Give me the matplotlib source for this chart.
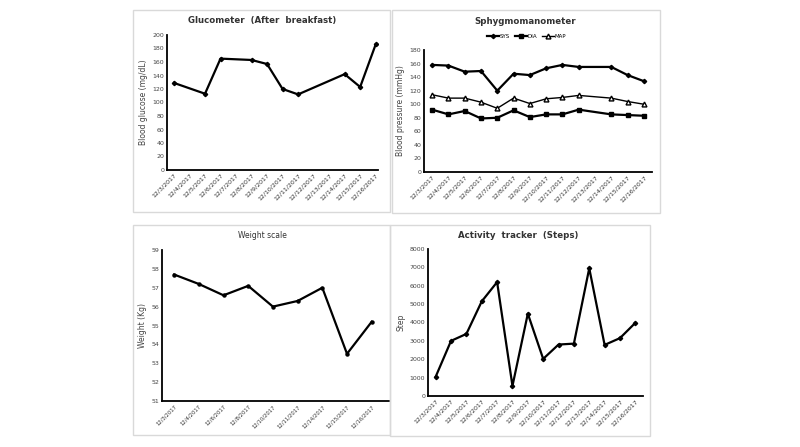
import matplotlib.pyplot as plt
import matplotlib.patches as mpatches
import numpy as np

nan = np.nan

# dates 12/3 .. 12/16
dates = ['12/%d/2017' % d for d in range(3, 17)]

# glucometer (after breakfast), gaps are missing readings
glucose = [129, nan, 113, 165, nan, 163, 157, 120, 112, nan, nan, 142, 123, 186]

# sphygmomanometer
sys_bp = [158, 157, 148, 149, 120, 145, 143, 153, 158, 155, nan, 155, 143, 134]
dia_bp = [92, 85, 90, 79, 80, 91, 81, 85, 85, 92, nan, 85, 84, 83]
map_bp = [114, 109, 109, 103, 94, 109, 101, 108, 110, 113, nan, 109, 104, 100]

# weight scale
weight_dates = ['12/3/2017', '12/4/2017', '12/6/2017', '12/8/2017', '12/10/2017',
                '12/11/2017', '12/14/2017', '12/15/2017', '12/16/2017']
weight = [57.7, 57.2, 56.6, 57.1, 56.0, 56.3, 57.0, 53.5, 55.2]

# activity tracker
steps = [1050, 3000, 3380, 5150, 6200, 550, 4480, 2020, 2800, 2850, 6950, 2780, 3150, 3980]

fig = plt.figure(figsize=(8, 4.47), dpi=100)

# light grey frames round each panel (pixel boxes -> figure coords)
def frame(x0, y0, x1, y1):
    r = mpatches.Rectangle((x0 / 800, 1 - y1 / 447), (x1 - x0) / 800, (y1 - y0) / 447,
                           transform=fig.transFigure, fill=False,
                           edgecolor='#d9d9d9', linewidth=1)
    fig.patches.append(r)

frame(133, 10, 390, 212)
frame(392, 10, 660, 213)
frame(133, 225, 390, 435)
frame(390, 225, 650, 436)

def style(ax, labels, ylabel):
    for s in ['top', 'right']:
        ax.spines[s].set_visible(False)
    for s in ['left', 'bottom']:
        ax.spines[s].set_linewidth(1.3)
        ax.spines[s].set_color('black')
    ax.set_xticks(np.arange(len(labels)))
    ax.set_xticklabels(labels, rotation=45, ha='right', rotation_mode='anchor',
                       fontsize=4.5, color='#333333')
    ax.tick_params(axis='both', length=0, pad=2)
    ax.tick_params(axis='y', labelsize=4.5, labelcolor='#444444')
    ax.set_ylabel(ylabel, fontsize=5.5, color='#444444', labelpad=3)

def connected(ax, vals, **kw):
    x = np.arange(len(vals))
    v = np.array(vals, dtype=float)
    m = ~np.isnan(v)
    return ax.plot(x[m], v[m], **kw)

# glucometer
ax1 = fig.add_axes([167 / 800, 1 - 170 / 447, 211 / 800, 135 / 447])
connected(ax1, glucose, color='black', lw=1.6, marker='D', ms=2.2)
ax1.set_xlim(-0.45, 13.15)
ax1.set_ylim(0, 200)
ax1.set_yticks(range(0, 201, 20))
style(ax1, dates, 'Blood glucose (mg/dL)')
fig.text(262 / 800, 1 - 21 / 447, 'Glucometer  (After  breakfast)', ha='center', va='center',
         fontsize=6.2, fontweight='bold', color='#333333')

# sphygmomanometer
ax2 = fig.add_axes([424 / 800, 1 - 172 / 447, 228 / 800, 122 / 447])
connected(ax2, sys_bp, color='black', lw=1.6, marker='D', ms=2.2, label='SYS')
connected(ax2, dia_bp, color='black', lw=1.6, marker='s', ms=3.5, label='DIA')
connected(ax2, map_bp, color='black', lw=1.0, marker='^', ms=3.5, mfc='white', label='MAP')
ax2.set_xlim(-0.5, 13.5)
ax2.set_ylim(0, 180)
ax2.set_yticks(range(0, 181, 20))
style(ax2, dates, 'Blood pressure (mmHg)')
ax2.legend(loc='center', bbox_to_anchor=(0.45, 1.11), ncol=3, frameon=False, fontsize=4,
           handlelength=2.2, columnspacing=0.8, handletextpad=0.1)
fig.text(525 / 800, 1 - 21 / 447, 'Sphygmomanometer', ha='center', va='center',
         fontsize=6.2, fontweight='bold', color='#333333')

# weight scale
ax3 = fig.add_axes([162 / 800, 1 - 401 / 447, 227 / 800, 151 / 447])
connected(ax3, weight, color='black', lw=1.6, marker='o', ms=2.2)
ax3.set_xlim(-0.49, 8.7)
ax3.set_ylim(51, 59)
ax3.set_yticks(range(51, 60))
style(ax3, weight_dates, 'Weight (Kg)')
for t in ax3.get_xticklabels():
    t.set_fontsize(3.8)
fig.text(262 / 800, 1 - 236 / 447, 'Weight scale', ha='center', va='center',
         fontsize=5.5, color='#333333')

# activity tracker
ax4 = fig.add_axes([428 / 800, 1 - 396 / 447, 215 / 800, 147 / 447])
connected(ax4, steps, color='black', lw=1.6, marker='D', ms=2.2)
ax4.set_xlim(-0.5, 13.5)
ax4.set_ylim(0, 8000)
ax4.set_yticks(range(0, 8001, 1000))
style(ax4, dates, 'Step')
fig.text(518 / 800, 1 - 236 / 447, 'Activity  tracker  (Steps)', ha='center', va='center',
         fontsize=6.2, fontweight='bold', color='#333333')

plt.savefig('out.png', dpi=100)
